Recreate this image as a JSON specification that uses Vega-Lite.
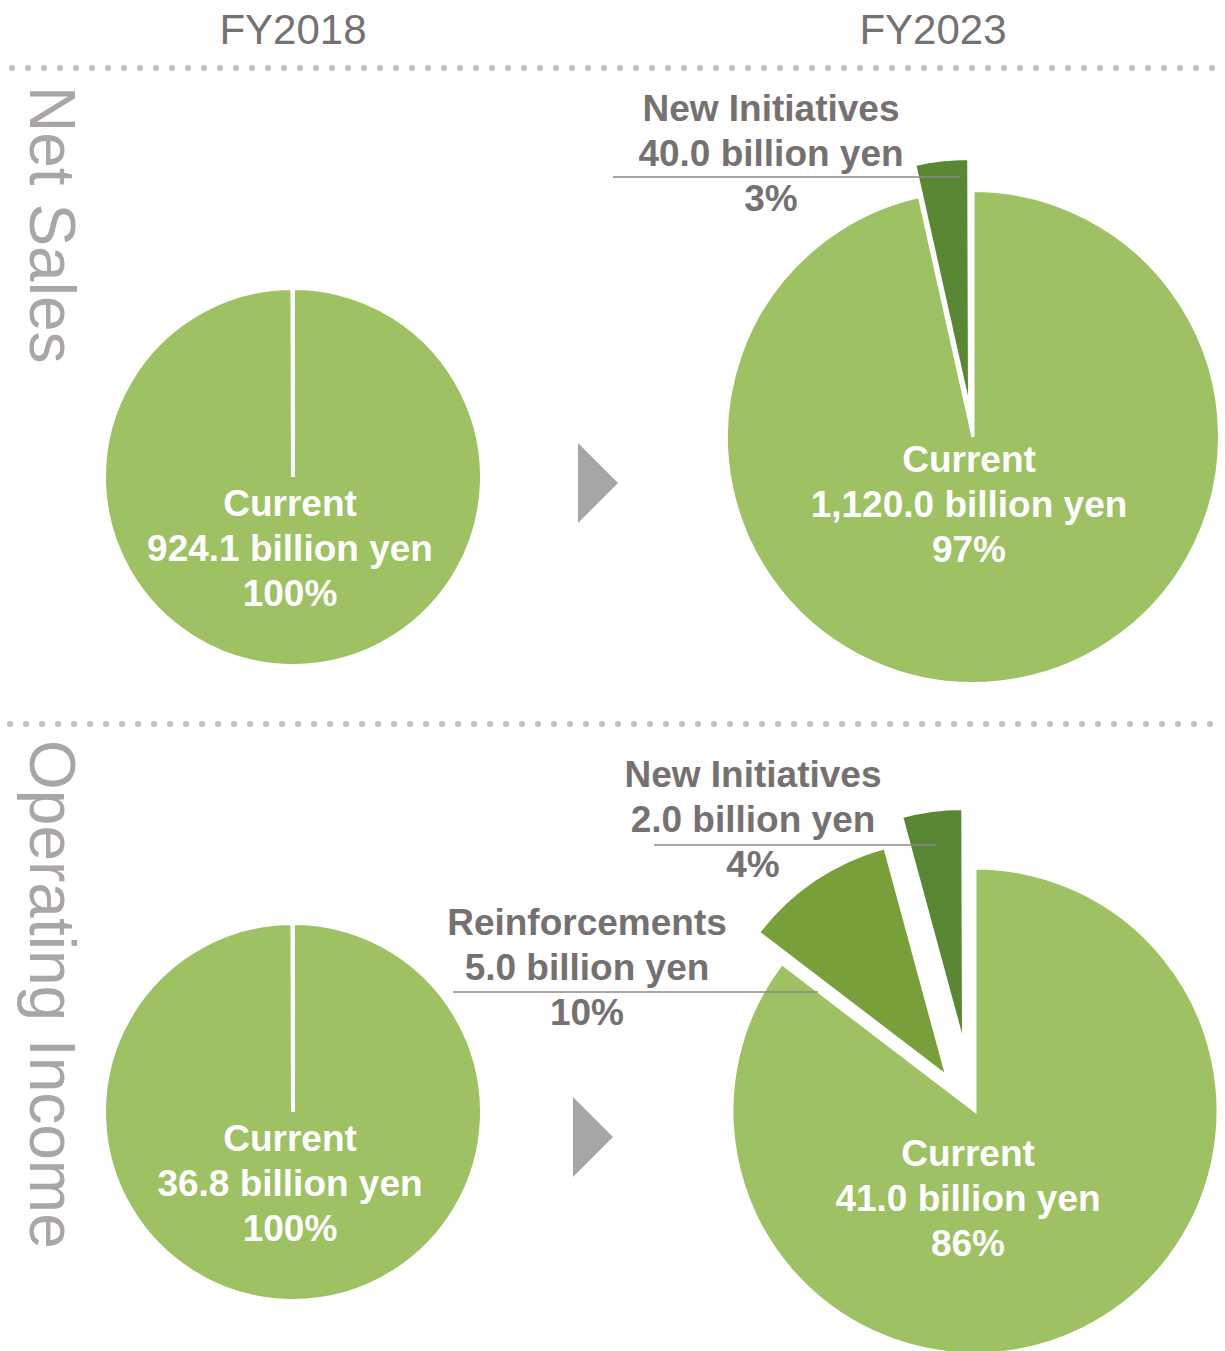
{
  "$schema": "https://vega.github.io/schema/vega-lite/v6.json",
  "width": 1225,
  "height": 1351,
  "padding": 0,
  "autosize": {"type": "none"},
  "background": "white",
  "config": {"view": {"stroke": null}},
  "data": {
    "values": [
      {"pie": "NS2018", "year": "FY2018", "metric": "Net Sales", "segment": "Current", "value": 924.1, "label": ["Current", "924.1 billion yen", "100%"]},
      {"pie": "NS2023", "year": "FY2023", "metric": "Net Sales", "segment": "Current", "value": 1120.0, "label": ["Current", "1,120.0 billion yen", "97%"]},
      {"pie": "NS2023", "year": "FY2023", "metric": "Net Sales", "segment": "New Initiatives", "value": 40.0, "label": ["New Initiatives", "40.0 billion yen", "3%"]},
      {"pie": "OI2018", "year": "FY2018", "metric": "Operating Income", "segment": "Current", "value": 36.8, "label": ["Current", "36.8 billion yen", "100%"]},
      {"pie": "OI2023", "year": "FY2023", "metric": "Operating Income", "segment": "Current", "value": 41.0, "label": ["Current", "41.0 billion yen", "86%"]},
      {"pie": "OI2023", "year": "FY2023", "metric": "Operating Income", "segment": "Reinforcements", "value": 5.0, "label": ["Reinforcements", "5.0 billion yen", "10%"]},
      {"pie": "OI2023", "year": "FY2023", "metric": "Operating Income", "segment": "New Initiatives", "value": 2.0, "label": ["New Initiatives", "2.0 billion yen", "4%"]}
    ]
  },
  "transform": [
    {"stack": "value", "groupby": ["pie"], "offset": "normalize", "as": ["t0", "t1"]}
  ],
  "layer": [
    {
      "transform": [{"filter": "datum.pie === 'NS2018'"}],
      "mark": {"type": "rule", "color": "#bfbfbf", "strokeWidth": 6, "strokeCap": "round", "strokeDash": [0, 16], "strokeDashOffset": 3, "yOffset": -409},
      "encoding": {
        "y": {"field": "metric", "type": "nominal", "scale": {"type": "point", "domain": ["Net Sales", "Operating Income"], "range": [477, 1112], "padding": 0}, "axis": null}
      }
    },
    {
      "transform": [{"filter": "datum.pie === 'OI2018'"}],
      "mark": {"type": "rule", "color": "#bfbfbf", "strokeWidth": 6, "strokeCap": "round", "strokeDash": [0, 16], "strokeDashOffset": 1, "yOffset": -388},
      "encoding": {
        "y": {"field": "metric", "type": "nominal", "scale": {"type": "point", "domain": ["Net Sales", "Operating Income"], "range": [477, 1112], "padding": 0}, "axis": null}
      }
    },
    {
      "encoding": {
        "x": {"field": "year", "type": "nominal", "scale": {"type": "point", "domain": ["FY2018", "FY2023"], "range": [293, 973], "padding": 0}, "axis": null},
        "y": {"field": "metric", "type": "nominal", "scale": {"type": "point", "domain": ["Net Sales", "Operating Income"], "range": [477, 1112], "padding": 0}, "axis": null}
      },
      "layer": [
        {
          "transform": [{"filter": "datum.pie === 'NS2018'"}],
          "mark": {"type": "text", "font": "Liberation Sans", "fontSize": 42, "fill": "#767171", "align": "center", "baseline": "alphabetic", "yOffset": -433},
          "encoding": {"text": {"field": "year"}}
        },
        {
          "transform": [{"filter": "datum.pie === 'NS2023' && datum.segment === 'Current'"}],
          "mark": {"type": "text", "font": "Liberation Sans", "fontSize": 42, "fill": "#767171", "align": "center", "baseline": "alphabetic", "xOffset": -40, "yOffset": -433},
          "encoding": {"text": {"field": "year"}}
        },
        {
          "transform": [{"filter": "datum.pie === 'NS2018'"}],
          "mark": {"type": "text", "font": "Liberation Sans", "fontSize": 64, "fill": "#aaa6a5", "angle": 90, "align": "left", "baseline": "alphabetic", "xOffset": -263, "yOffset": -391},
          "encoding": {"text": {"field": "metric"}}
        },
        {
          "transform": [{"filter": "datum.pie === 'OI2018'"}],
          "mark": {"type": "text", "font": "Liberation Sans", "fontSize": 64, "fill": "#aaa6a5", "angle": 90, "align": "left", "baseline": "alphabetic", "xOffset": -263, "yOffset": -372},
          "encoding": {"text": {"field": "metric"}}
        },
        {
          "transform": [{"filter": "datum.pie === 'NS2018'"}],
          "mark": {"type": "point", "shape": "M -0.5 -1 L 0.5 0 L -0.5 1 Z", "size": 6400, "filled": true, "color": "#a6a6a6", "opacity": 1, "strokeWidth": 0, "xOffset": 305, "yOffset": 6}
        },
        {
          "transform": [{"filter": "datum.pie === 'OI2018'"}],
          "mark": {"type": "point", "shape": "M -0.5 -1 L 0.5 0 L -0.5 1 Z", "size": 6400, "filled": true, "color": "#a6a6a6", "opacity": 1, "strokeWidth": 0, "xOffset": 300, "yOffset": 25}
        },
        {
          "encoding": {
            "theta": {"field": "t0", "type": "quantitative", "stack": null, "scale": {"domain": [0, 1], "range": [0, 6.28]}},
            "theta2": {"field": "t1"},
            "color": {"field": "segment", "type": "nominal", "scale": {"domain": ["Current", "Reinforcements", "New Initiatives"], "range": ["#9dc163", "#789f3a", "#5a8734"]}, "legend": null}
          },
          "layer": [
            {
              "transform": [{"filter": "datum.year === 'FY2018'"}],
              "mark": {"type": "arc", "radius": 189, "stroke": "white", "strokeWidth": 4}
            },
            {
              "transform": [{"filter": "datum.pie === 'NS2023' && datum.segment === 'Current'"}],
              "mark": {"type": "arc", "radius": 246.5, "stroke": "white", "strokeWidth": 3, "yOffset": -40}
            },
            {
              "transform": [{"filter": "datum.pie === 'NS2023' && datum.segment === 'New Initiatives'"}],
              "mark": {"type": "arc", "radius": 246, "stroke": "white", "strokeWidth": 2, "xOffset": -4, "yOffset": -72}
            },
            {
              "transform": [{"filter": "datum.pie === 'OI2023' && datum.segment === 'Current'"}],
              "mark": {"type": "arc", "radius": 243, "stroke": "white", "strokeWidth": 3, "xOffset": 2, "yOffset": -1}
            },
            {
              "transform": [{"filter": "datum.pie === 'OI2023' && datum.segment === 'Reinforcements'"}],
              "mark": {"type": "arc", "radius": 235, "stroke": "white", "strokeWidth": 2, "xOffset": -27, "yOffset": -37}
            },
            {
              "transform": [{"filter": "datum.pie === 'OI2023' && datum.segment === 'New Initiatives'"}],
              "mark": {"type": "arc", "radius": 232, "stroke": "white", "strokeWidth": 2, "xOffset": -10, "yOffset": -71}
            }
          ]
        },
        {
          "transform": [{"filter": "datum.pie === 'NS2023' && datum.segment === 'New Initiatives'"}],
          "mark": {"type": "rule", "color": "#8a8a8a", "strokeWidth": 1.5, "xOffset": -360, "x2Offset": -13, "yOffset": -300},
          "encoding": {"x2": {"field": "year"}}
        },
        {
          "transform": [{"filter": "datum.pie === 'OI2023' && datum.segment === 'New Initiatives'"}],
          "mark": {"type": "rule", "color": "#8a8a8a", "strokeWidth": 1.5, "xOffset": -319, "x2Offset": -37, "yOffset": -267},
          "encoding": {"x2": {"field": "year"}}
        },
        {
          "transform": [{"filter": "datum.pie === 'OI2023' && datum.segment === 'Reinforcements'"}],
          "mark": {"type": "rule", "color": "#8a8a8a", "strokeWidth": 1.5, "xOffset": -520, "x2Offset": -155, "yOffset": -120},
          "encoding": {"x2": {"field": "year"}}
        },
        {
          "transform": [{"filter": "datum.year === 'FY2018'"}],
          "mark": {"type": "text", "font": "Liberation Sans", "fontWeight": "bold", "fontSize": 37, "lineHeight": 45, "align": "center", "baseline": "middle", "fill": "white", "dx": -3, "dy": 28},
          "encoding": {"text": {"field": "label"}}
        },
        {
          "transform": [{"filter": "datum.pie === 'NS2023' && datum.segment === 'Current'"}],
          "mark": {"type": "text", "font": "Liberation Sans", "fontWeight": "bold", "fontSize": 37, "lineHeight": 45, "align": "center", "baseline": "middle", "fill": "white", "dx": -4, "dy": -16},
          "encoding": {"text": {"field": "label"}}
        },
        {
          "transform": [{"filter": "datum.pie === 'OI2023' && datum.segment === 'Current'"}],
          "mark": {"type": "text", "font": "Liberation Sans", "fontWeight": "bold", "fontSize": 37, "lineHeight": 45, "align": "center", "baseline": "middle", "fill": "white", "dx": -5, "dy": 43},
          "encoding": {"text": {"field": "label"}}
        },
        {
          "transform": [{"filter": "datum.pie === 'NS2023' && datum.segment === 'New Initiatives'"}],
          "mark": {"type": "text", "font": "Liberation Sans", "fontWeight": "bold", "fontSize": 37, "lineHeight": 45, "align": "center", "baseline": "middle", "fill": "#767171", "dx": -202, "dy": -367},
          "encoding": {"text": {"field": "label"}}
        },
        {
          "transform": [{"filter": "datum.pie === 'OI2023' && datum.segment === 'New Initiatives'"}],
          "mark": {"type": "text", "font": "Liberation Sans", "fontWeight": "bold", "fontSize": 37, "lineHeight": 45, "align": "center", "baseline": "middle", "fill": "#767171", "dx": -220, "dy": -336},
          "encoding": {"text": {"field": "label"}}
        },
        {
          "transform": [{"filter": "datum.pie === 'OI2023' && datum.segment === 'Reinforcements'"}],
          "mark": {"type": "text", "font": "Liberation Sans", "fontWeight": "bold", "fontSize": 37, "lineHeight": 45, "align": "center", "baseline": "middle", "fill": "#767171", "dx": -386, "dy": -188},
          "encoding": {"text": {"field": "label"}}
        }
      ]
    }
  ]
}
